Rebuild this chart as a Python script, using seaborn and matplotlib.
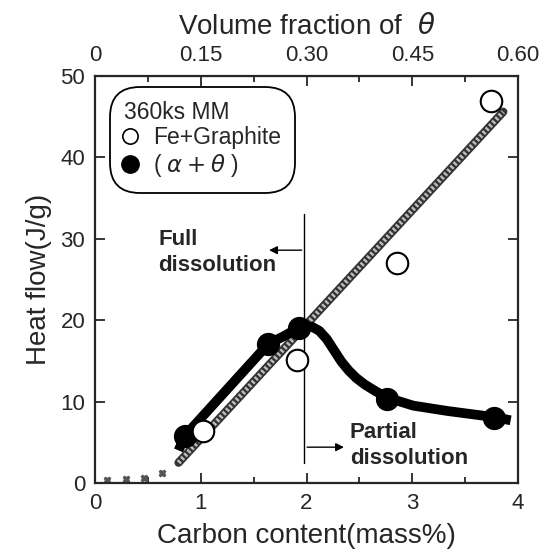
import matplotlib
matplotlib.use('Agg')
import matplotlib.pyplot as plt
import seaborn as sns
import pandas as pd

# measured points, Fe+Graphite (open) and (alpha+theta) (filled)
carbon_open = [1.02, 1.91, 2.86, 3.74]
heat_open = [6.4, 15.1, 27.0, 46.9]
carbon_fill = [0.85, 1.64, 1.93, 2.76, 3.77]
heat_fill = [5.8, 17.1, 19.1, 10.3, 8.0]

# smooth guide curve through the filled points
curve_c = [0.79, 0.85, 1.64, 1.78, 1.93, 2.05, 2.12, 2.19, 2.26, 2.33, 2.40, 2.47, 2.55, 2.65, 2.76, 3.01, 3.33, 3.77, 3.93]
curve_h = [4.0, 5.8, 17.1, 18.0, 19.1, 19.2, 18.7, 17.7, 16.3, 14.9, 13.8, 12.9, 12.1, 11.3, 10.5, 9.5, 8.85, 8.1, 7.7]

# hatched straight line and its faint dots near the origin
line_c = [0.79, 3.86]
line_h = [2.5, 45.6]
dot_c = [0.11, 0.29, 0.46, 0.63]
dot_h = [0.4, 0.5, 0.65, 1.2]

x_ticks = [0, 1, 2, 3, 4]
y_ticks = [0, 10, 20, 30, 40, 50]
top_ticks = [0, 0.15, 0.30, 0.45, 0.60]
top_labels = ['0', '0.15', '0.30', '0.45', '0.60']

sns.set_style('ticks')
plt.rcParams['font.family'] = ['Liberation Sans', 'DejaVu Sans']
plt.rcParams['mathtext.fontset'] = 'dejavusans'

fig = plt.figure(figsize=(5.41, 5.53), dpi=100)
ax = fig.add_axes([0.1756, 0.1266, 0.782, 0.736])

# hatched line: dark core with light speckles
df_line = pd.DataFrame({'c': line_c, 'h': line_h})
sns.lineplot(data=df_line, x='c', y='h', ax=ax, color='#333333', lw=6.0, sort=False, zorder=2)
sns.lineplot(data=df_line, x='c', y='h', ax=ax, color='#bdbdbd', lw=3.4, sort=False, zorder=2.1,
             linestyle=(0, (0.5, 0.5)))
ax.plot(dot_c, dot_h, ls='none', marker='X', ms=5, color='#555555', zorder=2)

# thick guide curve
df_curve = pd.DataFrame({'c': curve_c, 'h': curve_h})
sns.lineplot(data=df_curve, x='c', y='h', ax=ax, color='black', lw=7, sort=False, zorder=3,
             solid_capstyle='butt', solid_joinstyle='round')

sns.scatterplot(x=carbon_fill, y=heat_fill, ax=ax, color='black', s=240, edgecolor='black', zorder=4)
sns.scatterplot(x=carbon_open, y=heat_open, ax=ax, color='white', s=240, edgecolor='black',
                linewidth=1.5, zorder=5)

# boundary between full and partial dissolution
ax.plot([1.98, 1.98], [2.4, 33.1], color='black', lw=1.0, zorder=1)
ax.annotate('', xy=(1.62, 28.6), xytext=(1.98, 28.6),
            arrowprops=dict(arrowstyle='-|>', color='black', lw=1.0, mutation_scale=12))
ax.annotate('', xy=(2.38, 4.4), xytext=(1.98, 4.4),
            arrowprops=dict(arrowstyle='-|>', color='black', lw=1.0, mutation_scale=12))
ax.text(0.60, 31.2, 'Full\ndissolution', fontsize=16, fontweight='bold', va='top', ha='left',
        linespacing=1.3)
ax.text(2.41, 7.5, 'Partial\ndissolution', fontsize=16, fontweight='bold', va='top', ha='left',
        linespacing=1.3)

# legend box
h_open = plt.Line2D([], [], ls='none', marker='o', ms=11, mfc='white', mec='black', mew=1.2)
h_fill = plt.Line2D([], [], ls='none', marker='o', ms=12.5, mfc='black', mec='black')
leg = ax.legend([h_open, h_fill], ['Fe+Graphite', r'( $\alpha + \theta$ )'], title='360ks MM',
                loc='upper left', bbox_to_anchor=(0.035, 0.973), borderaxespad=0, alignment='left',
                fontsize=16.5, title_fontsize=16.5, handlelength=0.6, handletextpad=0.7,
                labelspacing=0.12, borderpad=0.6, frameon=True, framealpha=1)
frame = leg.get_frame()
frame.set_edgecolor('black')
frame.set_linewidth(1.3)
frame.set_boxstyle('round', pad=0, rounding_size=1.3)

ax.set_xlim(0, 4)
ax.set_ylim(0, 50)
ax.set_xticks(x_ticks)
ax.set_xticks([0.5, 1.5, 2.5, 3.5], minor=True)
ax.set_yticks(y_ticks)
ax.set_xticklabels([str(t) for t in x_ticks])
ax.set_yticklabels([str(t) for t in y_ticks])
ax.tick_params(which='both', direction='in', top=False, right=True, width=1.3, labelsize=16, pad=7)
ax.tick_params(which='major', length=7)
ax.tick_params(which='minor', length=4)
for sp in ax.spines.values():
    sp.set_visible(True)
    sp.set_linewidth(1.6)

secax = ax.secondary_xaxis('top', functions=(lambda c: c * 0.15, lambda v: v / 0.15))
secax.set_xticks(top_ticks)
secax.set_xticklabels(top_labels)
secax.set_xticks([0.075, 0.225, 0.375, 0.525], minor=True)
secax.tick_params(which='both', direction='in', width=1.3, labelsize=16, pad=7)
secax.tick_params(which='major', length=7)
secax.tick_params(which='minor', length=4)
secax.set_xlabel(r'Volume fraction of  $\theta$', fontsize=20, labelpad=8)

ax.set_xlabel('Carbon content(mass%)', fontsize=20, labelpad=7)
ax.set_ylabel('Heat flow(J/g)', fontsize=20, labelpad=6)

fig.savefig('out.png', dpi=100)
